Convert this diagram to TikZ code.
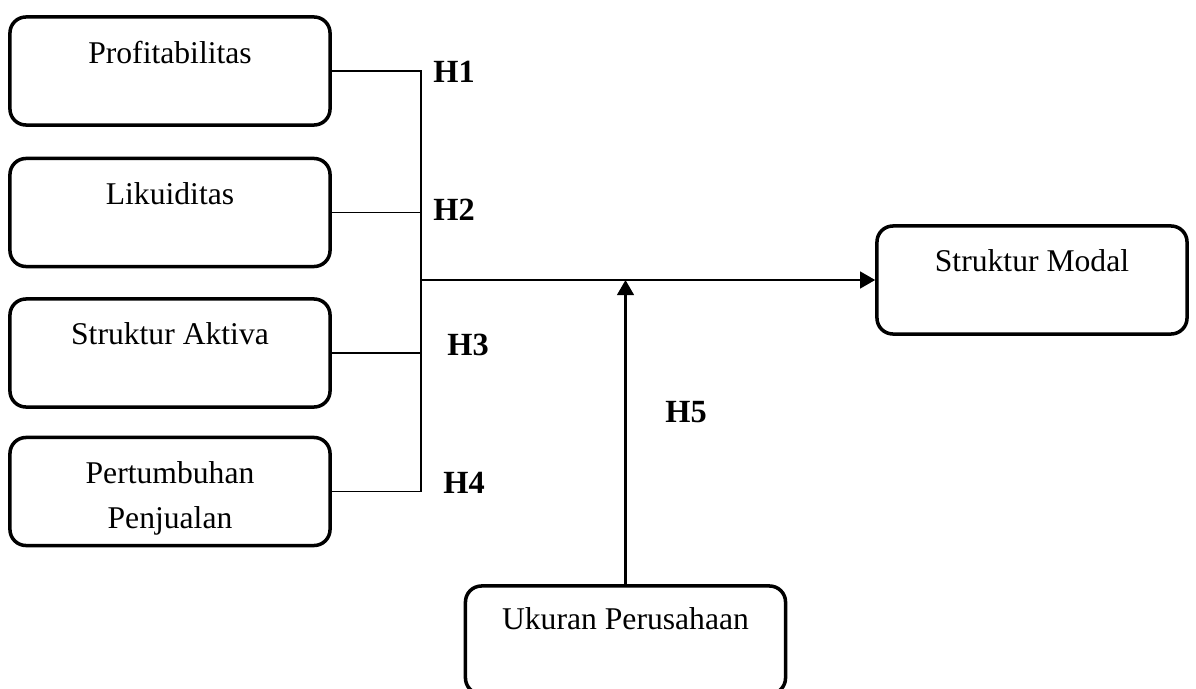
\documentclass[tikz,border=0pt]{standalone}
\usepackage{fontspec}
\setmainfont{Liberation Serif}
\usetikzlibrary{arrows.meta}

\begin{document}
\begin{tikzpicture}[x=0.025cm,y=-0.025cm,
  varbox/.style={draw=black,line width=2.5pt,rounded corners=0.4cm,minimum width=8cm,minimum height=2.7cm,inner sep=0pt},
  boxtext/.style={anchor=north,yshift=-0.52cm,align=center,font=\fontsize{22.5}{32}\selectfont},
  hlabel/.style={font=\fontsize{23}{27}\selectfont\bfseries},
  link/.style={line width=0.9pt},
  flow/.style={line width=1.7pt,-{Triangle[length=0.38cm,width=0.42cm]}}]

%keeping the page size of the reference
\useasboundingbox (0,0) rectangle (1196,689);

%independent variable boxes
\node[varbox,label={[boxtext]north:Profitabilitas}] (prof) at (170,71) {};
\node[varbox,label={[boxtext]north:Likuiditas}] (likuid) at (170,212.5) {};
\node[varbox,label={[boxtext]north:Struktur Aktiva}] (aktiva) at (170,353) {};
\node[varbox,label={[boxtext]north:Pertumbuhan\\Penjualan}] (tumbuh) at (170,491.5) {};

%dependent and moderating variable boxes
\node[varbox,minimum width=7.75cm,label={[boxtext]north:Struktur Modal}] (modal) at (1032,280) {};
\node[varbox,label={[boxtext,yshift=0.05cm]north:Ukuran Perusahaan}] (ukuran) at (625.5,640) {};

%joining point of the four lines
\coordinate (junc) at (421,280);

%lines from the left boxes
\draw[link] (prof.east) -| (junc);
\draw[link] (likuid.east) -| (junc);
\draw[link] (aktiva.east) -| (junc);
\draw[link] (tumbuh.east) -| (junc);

%arrows
\draw[flow] (junc) -- (modal.west);
\draw[flow] (ukuran.north) -- (ukuran.north |- junc);

%hypothesis labels
\node[hlabel] (h1) at (454,72) {H1};
\node[hlabel] (h2) at (454,210) {H2};
\node[hlabel] (h3) at (468,345) {H3};
\node[hlabel] (h4) at (464,483) {H4};
\node[hlabel] (h5) at (686,412) {H5};

\end{tikzpicture}
\end{document}
